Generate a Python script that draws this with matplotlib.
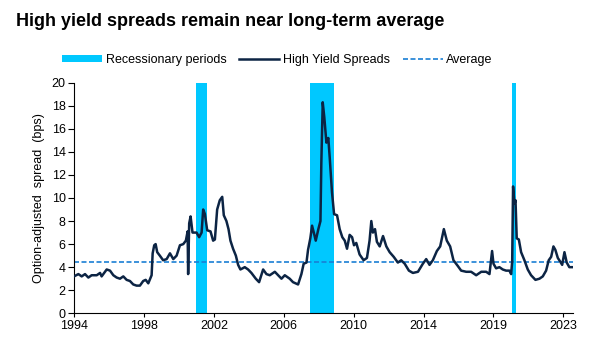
import matplotlib
matplotlib.use('Agg')
import matplotlib.pyplot as plt
from matplotlib.patches import Patch
from matplotlib.lines import Line2D

# x positions follow the chart's own (uneven) time axis
years = [1994.00, 1994.25, 1994.44, 1994.63, 1994.82, 1995.01, 1995.30, 1995.49, 1995.58,
         1995.77, 1995.87, 1996.06, 1996.25, 1996.44, 1996.63, 1996.82, 1997.01, 1997.20,
         1997.39, 1997.58, 1997.77, 1997.96, 1998.10, 1998.25, 1998.44, 1998.50, 1998.59,
         1998.67, 1998.76, 1998.91, 1999.10, 1999.30, 1999.49, 1999.68, 1999.87, 2000.06,
         2000.25, 2000.40, 2000.50, 2000.53, 2000.59, 2000.67, 2000.78, 2001.01, 2001.16,
         2001.30, 2001.39, 2001.49, 2001.62, 2001.81, 2001.96, 2002.06, 2002.19, 2002.34,
         2002.48, 2002.57, 2002.72, 2002.84, 2002.95, 2003.10, 2003.26, 2003.39, 2003.52,
         2003.77, 2003.96, 2004.15, 2004.40, 2004.59, 2004.82, 2005.01, 2005.20, 2005.49,
         2005.68, 2005.87, 2006.06, 2006.34, 2006.53, 2006.82, 2007.01, 2007.14, 2007.30,
         2007.39, 2007.52, 2007.62, 2007.72, 2007.83, 2007.98, 2008.10, 2008.15, 2008.23,
         2008.32, 2008.44, 2008.55, 2008.63, 2008.76, 2008.88, 2009.05, 2009.20, 2009.35,
         2009.49, 2009.62, 2009.77, 2009.91, 2010.02, 2010.15, 2010.34, 2010.57, 2010.76,
         2010.91, 2011.01, 2011.10, 2011.22, 2011.33, 2011.49, 2011.68, 2011.87, 2012.06,
         2012.29, 2012.53, 2012.72, 2012.92, 2013.16, 2013.39, 2013.68, 2013.96, 2014.15,
         2014.34, 2014.53, 2014.76, 2014.95, 2015.16, 2015.33, 2015.52, 2015.71, 2015.96,
         2016.15, 2016.44, 2016.72, 2017.01, 2017.30, 2017.58, 2017.77, 2017.92, 2018.00,
         2018.15, 2018.34, 2018.53, 2018.72, 2018.91, 2019.01, 2019.07, 2019.12, 2019.20,
         2019.26, 2019.33, 2019.45, 2019.58, 2019.77, 2019.96, 2020.15, 2020.40, 2020.63,
         2020.82, 2021.01, 2021.16, 2021.30, 2021.43, 2021.54, 2021.68, 2021.81, 2021.93,
         2022.06, 2022.19, 2022.34, 2022.57]
spreads = [3.2, 3.4, 3.2, 3.4, 3.1, 3.3, 3.3, 3.5, 3.2,
           3.6, 3.8, 3.7, 3.3, 3.1, 3.0, 3.2, 2.9, 2.8,
           2.5, 2.4, 2.4, 2.8, 2.9, 2.6, 3.3, 5.2, 5.9,
           6.0, 5.3, 5.0, 4.6, 4.7, 5.2, 4.7, 5.0, 5.9,
           6.0, 6.3, 7.1, 3.4, 7.8, 8.4, 7.0, 7.0, 6.6,
           7.0, 9.0, 8.6, 7.2, 7.1, 6.3, 6.4, 9.0, 9.8,
           10.1, 8.5, 8.0, 7.3, 6.3, 5.6, 5.0, 4.2, 3.8,
           4.0, 3.8, 3.5, 3.0, 2.7, 3.8, 3.4, 3.3, 3.6,
           3.3, 3.0, 3.3, 3.0, 2.7, 2.5, 3.4, 4.3, 4.4,
           5.5, 6.5, 7.6, 7.0, 6.3, 7.3, 8.0, 13.0, 18.3,
           17.0, 14.8, 15.2, 13.5, 10.5, 8.6, 8.5, 7.3, 6.6,
           6.3, 5.6, 6.8, 6.6, 5.9, 6.1, 5.1, 4.6, 4.8,
           6.3, 8.0, 7.0, 7.3, 6.2, 5.8, 6.7, 5.8, 5.3,
           4.9, 4.4, 4.6, 4.3, 3.7, 3.5, 3.6, 4.3, 4.7,
           4.2, 4.6, 5.4, 5.8, 7.3, 6.3, 5.8, 4.6, 4.1,
           3.7, 3.6, 3.6, 3.3, 3.6, 3.6, 3.4, 5.4, 4.3,
           3.9, 4.0, 3.8, 3.7, 3.7, 3.4, 4.5, 11.0, 9.5,
           9.8, 6.5, 6.4, 5.3, 4.6, 3.8, 3.3, 2.9, 3.0,
           3.2, 3.7, 4.6, 4.9, 5.8, 5.5, 4.8, 4.5, 4.2,
           5.3, 4.4, 4.0, 4.0]
average = 4.45
recessions = [(2000.97, 2001.62), (2007.49, 2008.90), (2019.08, 2019.30)]
tick_pos = [1994, 1998, 2002, 2006, 2010, 2014, 2018, 2022]
tick_labels = ['1994', '1998', '2002', '2006', '2010', '2014', '2019', '2023']

NAVY = '#0c2444'
CYAN = '#00c8ff'
AVG = '#1a7fd4'
plt.rcParams['font.family'] = ['Liberation Sans', 'DejaVu Sans']

fig = plt.figure(figsize=(5.93, 3.43), dpi=100)
ax = fig.add_axes([0.1248, 0.0866, 0.8415, 0.6724])

for start, end in recessions:
    ax.axvspan(start, end, color=CYAN, lw=0, zorder=1)
ax.axhline(average, color=AVG, lw=1.2, ls=(0, (3, 1.5)), zorder=2)
ax.plot(years, spreads, color=NAVY, lw=1.8, zorder=3)

ax.set_xlim(1994, 2022.55)
ax.set_ylim(0, 20)
ax.set_yticks(range(0, 21, 2))
ax.set_xticks(tick_pos)
ax.set_xticklabels(tick_labels)
ax.tick_params(labelsize=9, length=3, width=0.8, colors='black', pad=2)
ax.tick_params(axis='y', length=4)
for s in ['top', 'right']:
    ax.spines[s].set_visible(False)
ax.set_ylabel('Option-adjusted  spread  (bps)', fontsize=9, labelpad=5)

fig.text(0.027, 0.925, 'High yield spreads remain near long-term average',
         fontsize=13, fontweight='bold', ha='left', va='baseline')

handles = [Patch(color=CYAN, lw=0),
           Line2D([], [], color=NAVY, lw=1.8),
           Line2D([], [], color=AVG, lw=1.2, ls=(0, (3, 1.5)))]
labels = ['Recessionary periods', 'High Yield Spreads', 'Average']
fig.legend(handles, labels, loc='center', bbox_to_anchor=(0.468, 0.825), ncol=3,
           frameon=False, fontsize=9, handlelength=3.2, handleheight=0.5,
           handletextpad=0.3, columnspacing=1.0)

plt.savefig('out.png', dpi=100)
